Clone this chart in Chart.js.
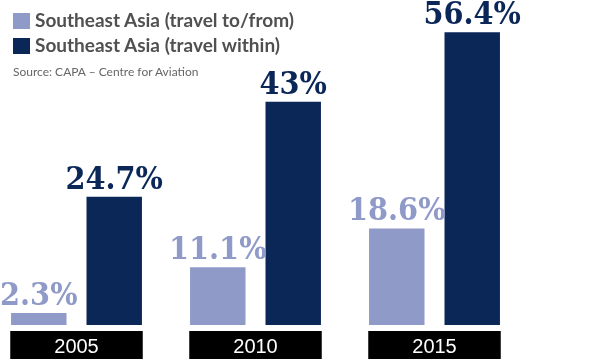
<!DOCTYPE html>
<html>
<head>
<meta charset="utf-8">
<script src="https://cdn.jsdelivr.net/npm/chart.js@4/dist/chart.umd.min.js"></script>
<style>
  html, body { margin: 0; padding: 0; background: #fff; }
  #wrap { position: relative; width: 610px; height: 359px; overflow: hidden; background: #fff; }
  #cw { position: absolute; left: -13px; top: 0; width: 623px; height: 359px; }
  .lg { position: absolute; left: 13px; font-family: Lato, "Open Sans", sans-serif; font-weight: 700; font-size: 19px; color: #505050; white-space: nowrap; line-height: 20px; }
  .sw { display: inline-block; width: 17px; height: 16px; vertical-align: -2px; margin-right: 5px; }
  #src { position: absolute; left: 13px; top: 64px; font-family: Lato, "Open Sans", sans-serif; font-size: 12px; color: #666; white-space: nowrap; }
</style>
</head>
<body>
<div id="wrap">
  <div id="cw"><canvas id="c" width="623" height="359"></canvas></div>
  <div class="lg" id="lg1" style="top:10px"><span class="sw" id="sw1"></span><span id="t1"></span></div>
  <div class="lg" id="lg2" style="top:35px"><span class="sw" id="sw2"></span><span id="t2"></span></div>
  <div id="src"></div>
</div>
<script>
const categories = ["2005", "2010", "2015"];
const travelToFrom = [2.3, 11.1, 18.6];
const travelWithin = [24.7, 43, 56.4];
const seriesNames = ["Southeast Asia (travel to/from)", "Southeast Asia (travel within)"];
const sourceText = "Source: CAPA \u2013 Centre for Aviation";

const lightColor = "#8f9ac8";
const darkColor = "#0b2757";

document.getElementById("t1").textContent = seriesNames[0];
document.getElementById("t2").textContent = seriesNames[1];
document.getElementById("sw1").style.background = lightColor;
document.getElementById("sw2").style.background = darkColor;
document.getElementById("src").textContent = sourceText;

const valueLabels = {
  id: "valueLabels",
  afterDatasetsDraw(chart) {
    const ctx = chart.ctx;
    ctx.save();
    ctx.font = 'bold 32px "DejaVu Serif Condensed", "DejaVu Serif", serif';
    ctx.textAlign = "center";
    ctx.textBaseline = "alphabetic";
    chart.data.datasets.forEach((ds, i) => {
      const meta = chart.getDatasetMeta(i);
      meta.data.forEach((bar, j) => {
        ctx.fillStyle = ds.backgroundColor;
        ctx.fillText(ds.data[j] + "%", bar.x, bar.y - 8);
      });
    });
    ctx.restore();
  }
};

new Chart(document.getElementById("c"), {
  type: "bar",
  data: {
    labels: categories,
    datasets: [
      { label: seriesNames[0], data: travelToFrom, backgroundColor: lightColor },
      { label: seriesNames[1], data: travelWithin, backgroundColor: darkColor }
    ]
  },
  options: {
    responsive: false,
    animation: false,
    devicePixelRatio: 1,
    layout: { padding: { left: 0, right: 86, top: 0, bottom: 0 } },
    datasets: { bar: { categoryPercentage: 0.843, barPercentage: 0.735 } },
    plugins: { legend: { display: false }, tooltip: { enabled: false } },
    scales: {
      y: { display: false, min: 0, max: 62.6 },
      x: {
        grid: { display: false, drawTicks: false },
        border: { display: false },
        afterFit: (s) => { s.height = 34; },
        ticks: {
          color: "#fff",
          padding: 10,
          font: { family: '"Liberation Sans Narrow", "Liberation Sans", sans-serif', size: 20 },
          showLabelBackdrop: true,
          backdropColor: "#000",
          backdropPadding: { left: 44, right: 44, top: 4, bottom: 12 }
        }
      }
    }
  },
  plugins: [valueLabels]
});
</script>
</body>
</html>
